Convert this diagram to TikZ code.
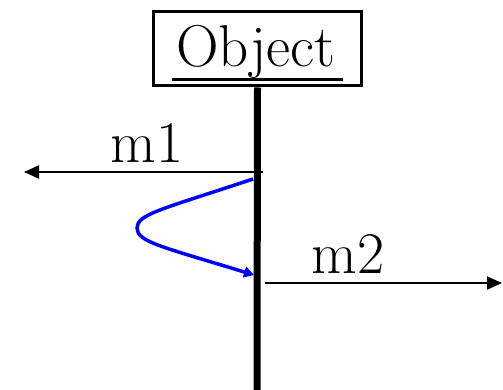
\documentclass[tikz,border=0pt]{standalone}
\usetikzlibrary{arrows.meta}
\begin{document}
\begin{tikzpicture}[x=1pt,y=-1pt,
  big/.style={font=\fontsize{59}{61}\selectfont, inner sep=0pt, anchor=base},
  msg/.style={line width=2pt, -{Triangle[length=15pt,width=13pt]}},
  self/.style={draw={rgb,255:red,0;green,0;blue,255}, line width=3.5pt, -{Triangle[length=10pt,width=11pt]}}]
\useasboundingbox (0,0) rectangle (503,390);
\node[draw, line width=3pt, minimum width=208pt, minimum height=74pt, inner sep=0pt] (obj) at (257.5,49) {};
\node[big] (objtxt) at (256,67) {Object};
\coordinate (ulA) at (172,80);
\coordinate (ulB) at (343,80);
\draw[line width=3pt] (ulA) -- (ulB);
\coordinate (lifeend) at (257,390);
\draw[line width=7pt] (obj.south) -- (lifeend);
\coordinate (m1s) at (263,172);
\coordinate (m1e) at (24,172);
\draw[msg] (m1s) -- (m1e);
\node[big] (m1) at (147,163) {m1};
\coordinate (ss) at (253,179);
\coordinate (sl) at (137,228);
\coordinate (se) at (254,275);
\draw[self] (ss) .. controls (163,209) and (137,214) .. (sl) .. controls (137,242) and (163,247) .. (se);
\coordinate (m2s) at (265,283);
\coordinate (m2e) at (502,283);
\draw[msg] (m2s) -- (m2e);
\node[big] (m2) at (348,273) {m2};
\end{tikzpicture}
\end{document}
